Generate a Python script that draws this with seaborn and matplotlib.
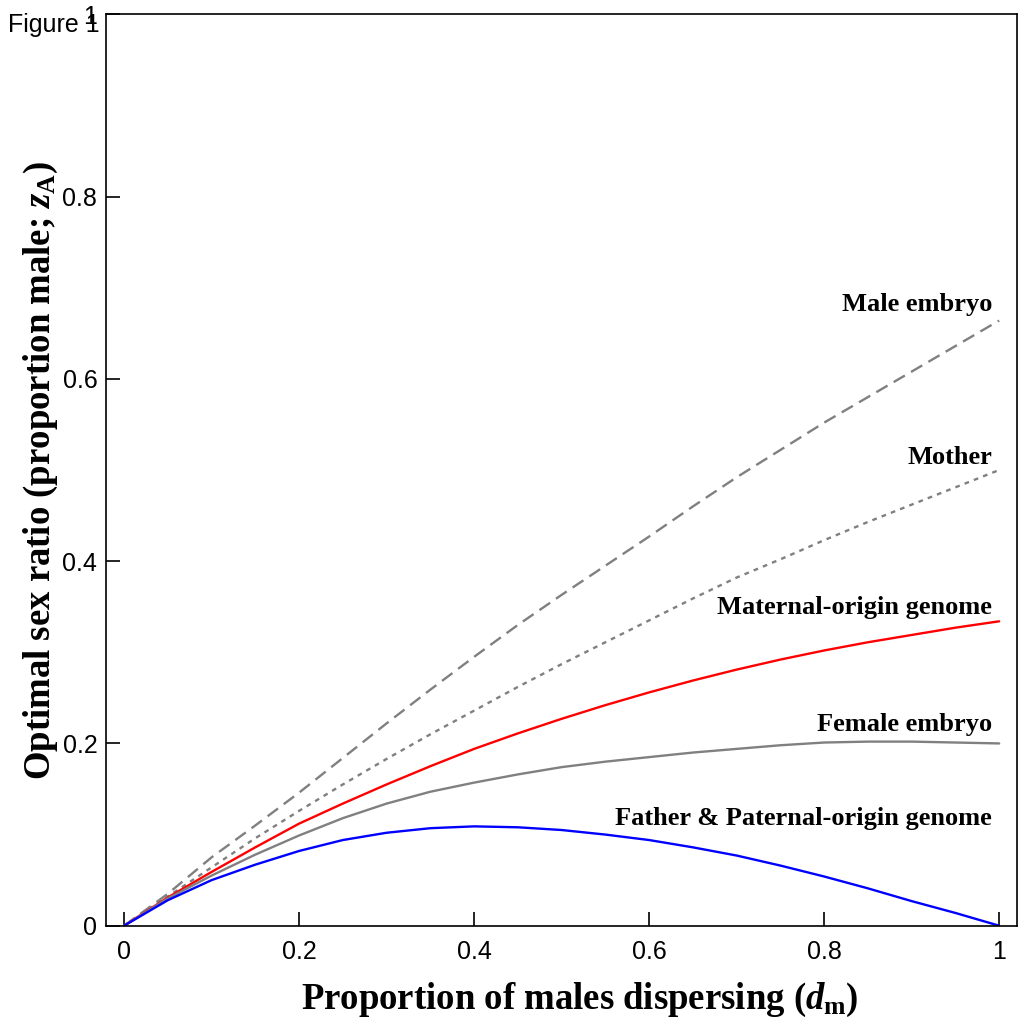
import numpy as np
import pandas as pd
import matplotlib
matplotlib.use("Agg")
import matplotlib.pyplot as plt
import seaborn as sns

# ---- data ----
d_m = [0.0, 0.05, 0.10, 0.15, 0.20, 0.25, 0.30, 0.35, 0.40, 0.45, 0.50,
       0.55, 0.60, 0.65, 0.70, 0.75, 0.80, 0.85, 0.90, 0.95, 1.00]
male_embryo = [0.0, 0.035, 0.075, 0.110, 0.146, 0.184, 0.222, 0.259, 0.295, 0.330, 0.363,
               0.395, 0.427, 0.460, 0.492, 0.522, 0.552, 0.580, 0.608, 0.636, 0.664]
mother = [0.0, 0.032, 0.064, 0.096, 0.126, 0.155, 0.183, 0.210, 0.236, 0.262, 0.287,
          0.311, 0.335, 0.359, 0.382, 0.402, 0.423, 0.443, 0.462, 0.481, 0.500]
maternal_origin = [0.0, 0.031, 0.059, 0.086, 0.112, 0.134, 0.155, 0.175, 0.194, 0.211, 0.227,
                   0.242, 0.256, 0.269, 0.281, 0.292, 0.302, 0.311, 0.319, 0.327, 0.334]
female_embryo = [0.0, 0.030, 0.055, 0.078, 0.099, 0.118, 0.134, 0.147, 0.157, 0.166, 0.174,
                 0.180, 0.185, 0.190, 0.194, 0.198, 0.201, 0.202, 0.202, 0.201, 0.200]
father_paternal = [0.0, 0.028, 0.050, 0.067, 0.082, 0.094, 0.102, 0.107, 0.109, 0.108, 0.105,
                   0.100, 0.094, 0.086, 0.077, 0.066, 0.054, 0.041, 0.027, 0.014, 0.0]

series_labels = ["Male embryo", "Mother", "Maternal-origin genome",
                 "Female embryo", "Father & Paternal-origin genome"]
label_y = [0.675, 0.507, 0.342, 0.214, 0.110]

x_ticks = [0, 0.2, 0.4, 0.6, 0.8, 1]
x_tick_labels = ["0", "0.2", "0.4", "0.6", "0.8", "1"]
y_ticks = [0, 0.2, 0.4, 0.6, 0.8, 1]
y_tick_labels = ["0", "0.2", "0.4", "0.6", "0.8", "1"]

# ---- style ----
sns.set_style("ticks")
plt.rcParams["font.family"] = ["Liberation Sans", "DejaVu Sans"]
plt.rcParams["text.color"] = "black"
plt.rcParams["axes.labelcolor"] = "black"
plt.rcParams["xtick.color"] = "black"
plt.rcParams["ytick.color"] = "black"
plt.rcParams["mathtext.fontset"] = "custom"
plt.rcParams["mathtext.it"] = "Liberation Serif:italic:bold"
plt.rcParams["mathtext.rm"] = "Liberation Serif:bold"
plt.rcParams["mathtext.bf"] = "Liberation Serif:bold"

fig = plt.figure(figsize=(10.23, 10.23), dpi=100)
ax = fig.add_axes([0.1033, 0.0951, 0.8905, 0.8909])

gray = "#808080"
lw = 1.7
specs = [
    (male_embryo, gray, (5.5, 3.0)),
    (mother, gray, (2.0, 2.2)),
    (maternal_origin, "#ff0000", None),
    (female_embryo, gray, None),
    (father_paternal, "#0000ff", None),
]
for vals, col, dash in specs:
    df = pd.DataFrame({"d": d_m, "z": vals})
    sns.lineplot(data=df, x="d", y="z", ax=ax, color=col, linewidth=lw)
    if dash is not None:
        ax.lines[-1].set_dashes(dash)

for lab, yy in zip(series_labels, label_y):
    ax.text(0.992, yy, lab, ha="right", va="baseline", color="black",
            fontfamily="Liberation Serif", fontweight="bold", fontsize=19)

ax.set_xlim(-0.021, 1.020)
ax.set_ylim(0, 1)
ax.set_xticks(x_ticks)
ax.set_xticklabels(x_tick_labels)
ax.set_yticks(y_ticks)
ax.set_yticklabels(y_tick_labels)
ax.tick_params(direction="in", length=10, width=1.2, labelsize=18,
               top=False, right=False, colors="black")
ax.tick_params(axis="x", pad=10)
ax.tick_params(axis="y", pad=6)
for s in ax.spines.values():
    s.set_visible(True)
    s.set_linewidth(1.2)
    s.set_color("black")

ax.set_xlabel(r"Proportion of males dispersing ($d_{\mathrm{m}}$)", color="black",
              fontfamily="Liberation Serif", fontweight="bold", fontsize=26.5)
ax.set_ylabel(r"Optimal sex ratio (proportion male; $z_{\mathrm{A}}$)", color="black",
              fontfamily="Liberation Serif", fontweight="bold", fontsize=26.5, labelpad=2)
ax.xaxis.set_label_coords(0.521, -0.060)

fig.text(8 / 1023, 1 - 32 / 1023, "Figure 1", fontsize=18, ha="left", va="baseline",
         color="black")

fig.savefig("out.png", dpi=100)
